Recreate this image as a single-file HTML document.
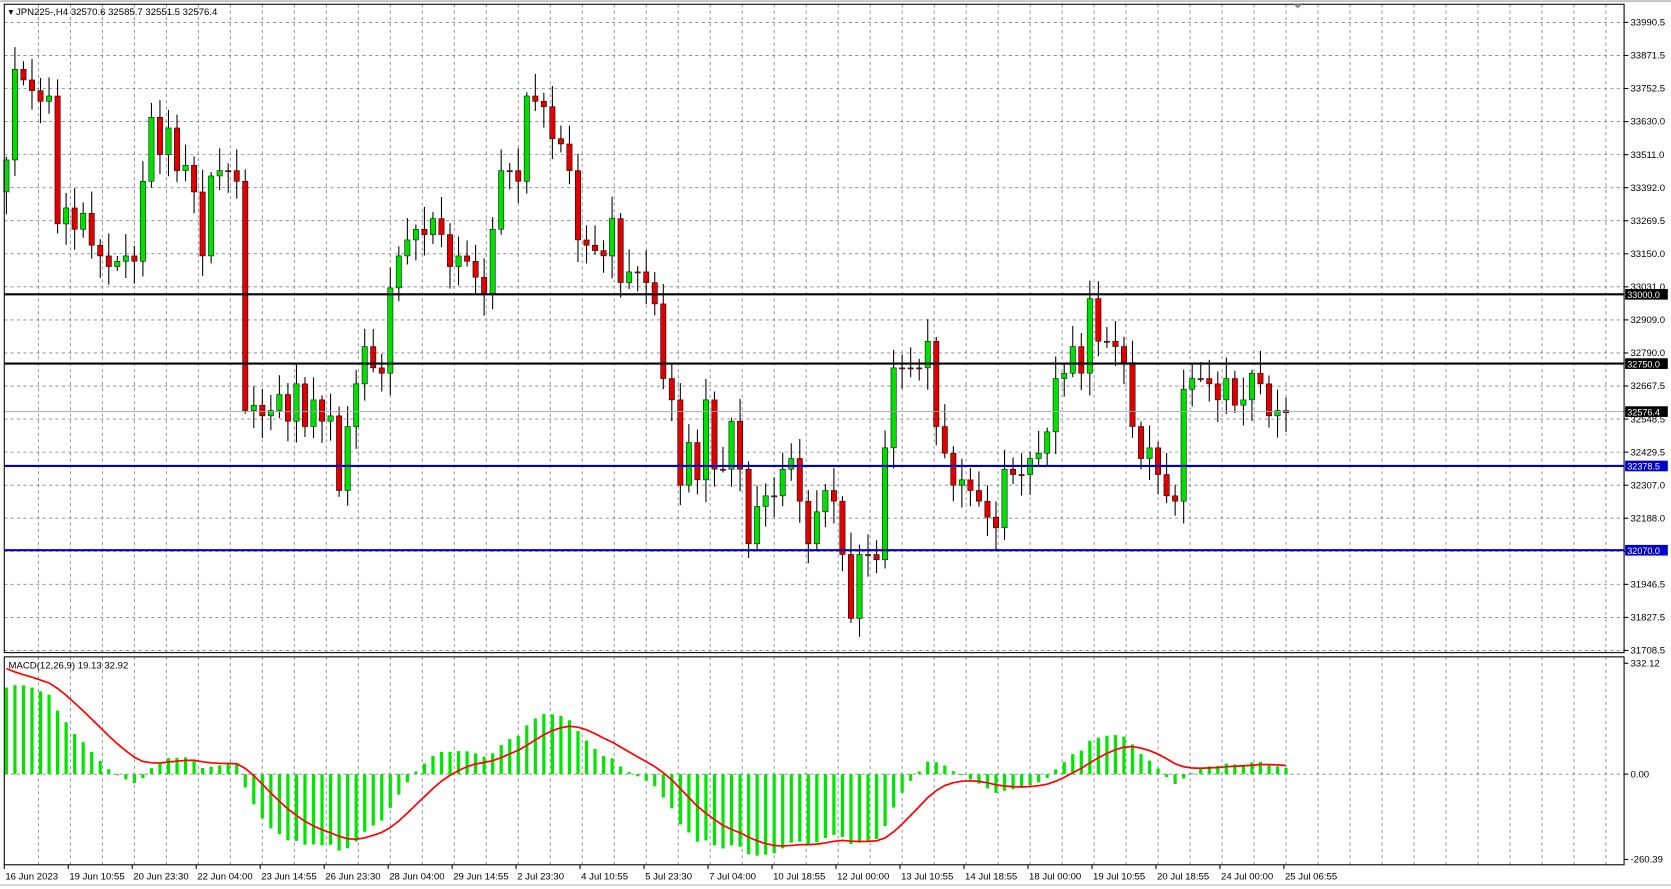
<!DOCTYPE html>
<html><head><meta charset="utf-8"><style>
html,body{margin:0;padding:0;background:#fff;overflow:hidden}
svg{display:block}
text{font-family:"Liberation Sans",sans-serif;font-size:9px;fill:#000}
</style></head><body>
<svg id="s" width="1671" height="889" viewBox="0 0 1567 833.7" preserveAspectRatio="none" xmlns="http://www.w3.org/2000/svg"></svg>
<script>
const s=document.getElementById('s');let h='';
const L=4,R=1523,T=4,B=612,MT=616,MB=811;
h+=`<rect x="0" y="0" width="1567" height="834" fill="#fff"/>`;
// grid verticals
for(let x=36;x<R;x+=30){h+=`<line x1="${x}" y1="${T}" x2="${x}" y2="${B}" stroke="#7b8592" stroke-width="0.8" stroke-dasharray="3,3"/><line x1="${x}" y1="${MT}" x2="${x}" y2="${MB}" stroke="#7b8592" stroke-width="0.8" stroke-dasharray="3,3"/>`;}
const ticks=["33990.5","33871.5","33752.5","33630.0","33511.0","33392.0","33269.5","33150.0","33031.0","32909.0","32790.0","32667.5","32548.5","32429.5","32307.0","32188.0","32068.0","31946.5","31827.5","31708.5"];
ticks.forEach((t,i)=>{const y=21+i*31;h+=`<line x1="${L}" y1="${y}" x2="${R}" y2="${y}" stroke="#7b8592" stroke-width="0.8" stroke-dasharray="3,3"/><line x1="${R}" y1="${y}" x2="${R+4}" y2="${y}" stroke="#000"/><text x="1529" y="${y+3}">${t}</text>`;});
// price data (displayed y)
const c=[150,65,75,85,95,90,210,195,215,200,230,240,250,245,240,245,170,110,145,120,160,155,180,240,165,160,160,170,385,380,390,385,370,395,360,400,375,395,390,460,400,360,325,345,350,270,240,225,215,220,205,220,250,240,245,260,275,215,160,160,170,90,95,100,130,135,160,225,230,235,240,205,265,255,255,265,285,355,375,455,415,450,375,440,440,395,440,510,475,465,465,440,430,470,510,480,460,470,520,580,520,520,525,420,345,345,345,345,320,400,425,455,450,460,470,485,495,440,445,445,430,425,405,355,350,325,350,280,320,320,325,340,400,430,420,445,465,470,365,355,355,360,375,355,380,375,350,360,390,385,387];
let prev=180;
c.forEach((cl,i)=>{const x=6+i*8;const o=prev;const r1=Math.abs(Math.sin(i*1.7))*18+3,r2=Math.abs(Math.cos(i*2.3))*18+3;
const top=Math.min(o,cl)-r1,bot=Math.max(o,cl)+r2;
h+=`<line x1="${x}" y1="${top}" x2="${x}" y2="${bot}" stroke="#000" stroke-width="1"/>`;
const up=cl<o;const bt=Math.min(o,cl),bh=Math.max(Math.abs(o-cl),1);
h+=`<rect x="${x-2.5}" y="${bt}" width="5" height="${bh}" fill="${up?'#00e000':'#e00000'}" stroke="#000" stroke-width="0.5"/>`;
prev=cl;});
// horizontal lines
const hl=[[276,'#000','33000.0'],[341,'#000','32750.0'],[437,'#0000c8','32378.5'],[516,'#0000c8','32070.0']];
h+=`<line x1="${L}" y1="386" x2="${R}" y2="386" stroke="#a0a8b0" stroke-width="0.8"/>`;
hl.forEach(([y,col,t])=>{h+=`<line x1="${L}" y1="${y}" x2="${R}" y2="${y}" stroke="${col}" stroke-width="2"/><rect x="${R+1}" y="${y-5}" width="40" height="10" fill="${col}"/><text x="1526" y="${y+3.5}" style="fill:#fff;font-size:8.5px">${t}</text>`;});
h+=`<rect x="${R+1}" y="381" width="40" height="10" fill="#000"/><text x="1526" y="389.5" style="fill:#fff;font-size:8.5px">32576.4</text>`;
// MACD
const P=p=>33990.5-(p-21)*3.874;
let e12=P(c[0]),e26=e12-280,sig=330;const m=[],sg=[];
c.forEach(v=>{const p=P(v);e12+=(p-e12)*2/13;e26+=(p-e26)*2/27;const mm=e12-e26;sig+=(mm-sig)*0.2;m.push(mm);sg.push(sig);});
const MY=v=>726-v*0.3133;
h+=`<line x1="${L}" y1="726" x2="${R}" y2="726" stroke="#7b8592" stroke-width="0.8" stroke-dasharray="3,3"/>`;
m.forEach((v,i)=>{const x=6+i*8;const y=MY(v);h+=`<rect x="${x-1.5}" y="${Math.min(y,726)}" width="3" height="${Math.abs(y-726)}" fill="#00e600"/>`;});
h+=`<polyline fill="none" stroke="#f00" stroke-width="1.6" points="${sg.map((v,i)=>(6+i*8)+','+MY(v)).join(' ')}"/>`;
h+=`<text x="8" y="627">MACD(12,26,9) 19.13 32.92</text>`;
[[622,'332.12'],[726,'0.00'],[806,'-260.39']].forEach(([y,t])=>{h+=`<line x1="${R}" y1="${y}" x2="${R+4}" y2="${y}" stroke="#000"/><text x="1529" y="${y+3}">${t}</text>`;});
// frames
h+=`<rect x="${L}" y="${T}" width="${R-L}" height="${B-T}" fill="none" stroke="#000"/><rect x="${L}" y="${MT}" width="${R-L}" height="${MB-MT}" fill="none" stroke="#000"/>`;
h+=`<line x1="0" y1="1" x2="1567" y2="1" stroke="#999"/><line x1="0" y1="830" x2="1567" y2="830" stroke="#bbb"/>`;
h+=`<text x="8" y="14">▾ JPN225-,H4  32570.6 32585.7 32551.5 32576.4</text>`;
h+=`<polygon points="1213,4 1221,4 1217,8" fill="#8a9099"/>`;
// time labels
const tl=["16 Jun 2023","19 Jun 10:55","20 Jun 23:30","22 Jun 04:00","23 Jun 14:55","26 Jun 23:30","28 Jun 04:00","29 Jun 14:55","2 Jul 23:30","4 Jul 10:55","5 Jul 23:30","7 Jul 04:00","10 Jul 18:55","12 Jul 00:00","13 Jul 10:55","14 Jul 18:55","18 Jul 00:00","19 Jul 10:55","20 Jul 18:55","24 Jul 00:00","25 Jul 06:55"];
tl.forEach((t,i)=>{const x=4+i*60;h+=`<line x1="${x}" y1="${MB}" x2="${x}" y2="${MB+4}" stroke="#000"/><text x="${x+1}" y="825">${t}</text>`;});
s.innerHTML=h;
</script>
</body></html>
